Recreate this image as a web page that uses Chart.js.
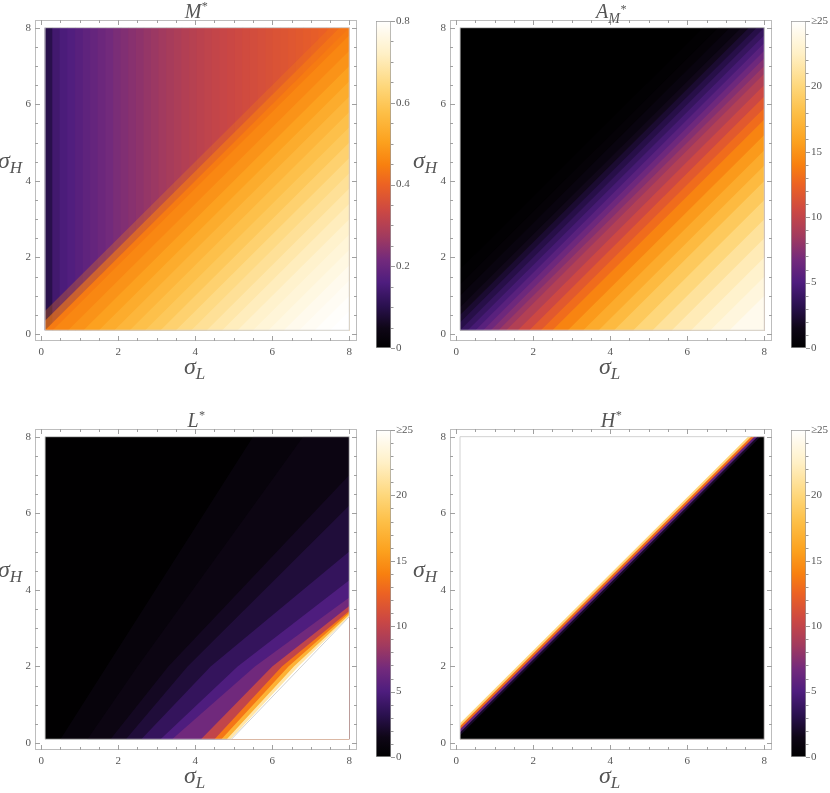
<!DOCTYPE html>
<html>
<head>
<meta charset="utf-8">
<script src="https://cdn.jsdelivr.net/npm/chart.js@4.4.0/dist/chart.umd.min.js"></script>
<style>
  body { margin: 0; background: #fff; width: 830px; height: 793px; position: relative; overflow: hidden; }
  canvas { position: absolute; }
  .lbl { position: absolute; font-family: 'Liberation Serif', 'DejaVu Serif', serif; font-style: italic; color: #555; white-space: nowrap; }
  .ttl { font-size: 20px; line-height: 20px; text-align: center; width: 392px; }
  .ax { font-size: 24px; line-height: 24px; }
  .sub { font-size: 17px; position: relative; top: 5px; }
  .star { font-size: 12px; position: relative; top: -8px; }
</style>
</head>
<body>

<canvas id="hm1" width="362" height="368" style="left:0;top:0"></canvas>
<canvas id="cb1" width="50" height="365" style="left:365px;top:0"></canvas>
<canvas id="hm2" width="362" height="368" style="left:415px;top:0"></canvas>
<canvas id="cb2" width="50" height="365" style="left:780px;top:0"></canvas>
<canvas id="hm3" width="362" height="368" style="left:0;top:409px"></canvas>
<canvas id="cb3" width="50" height="365" style="left:365px;top:409px"></canvas>
<canvas id="hm4" width="362" height="368" style="left:415px;top:409px"></canvas>
<canvas id="cb4" width="50" height="365" style="left:780px;top:409px"></canvas>

<div class="lbl ttl" style="left:0;top:1px"><i>M</i><span class="star">*</span></div>
<div class="lbl ttl" style="left:415px;top:1px"><i>A</i><span class="sub" style="font-size:14px">M<span class="star" style="top:-10px">*</span></span></div>
<div class="lbl ttl" style="left:0;top:410px"><i>L</i><span class="star">*</span></div>
<div class="lbl ttl" style="left:415px;top:410px"><i>H</i><span class="star">*</span></div>

<div class="lbl ax" style="left:184px;top:354px">σ<span class="sub">L</span></div>
<div class="lbl ax" style="left:599px;top:354px">σ<span class="sub">L</span></div>
<div class="lbl ax" style="left:184px;top:763px">σ<span class="sub">L</span></div>
<div class="lbl ax" style="left:599px;top:763px">σ<span class="sub">L</span></div>

<div class="lbl ax" style="left:-2px;top:148px">σ<span class="sub">H</span></div>
<div class="lbl ax" style="left:413px;top:148px">σ<span class="sub">H</span></div>
<div class="lbl ax" style="left:-2px;top:557px">σ<span class="sub">H</span></div>
<div class="lbl ax" style="left:413px;top:557px">σ<span class="sub">H</span></div>

<script>
// the functions are plotted on sigma_L, sigma_H in [0.1, 8]
const domainLo = 0.1;
const domainHi = 8;

const axisTicks = [0, 2, 4, 6, 8];
const mStarTicks = [0, 0.2, 0.4, 0.6, 0.8];
const countTicks = [0, 5, 10, 15, 20, 25];

// M*: above the diagonal it only changes with sigma_L (column centres + values)
const mStarColX = [0.20, 0.40, 0.59, 0.79, 0.99, 1.19, 1.38, 1.58, 1.78, 1.98,
                   2.17, 2.37, 2.57, 2.77, 2.96, 3.16, 3.36, 3.56, 3.75, 3.95,
                   4.15, 4.35, 4.54, 4.74, 4.94, 5.14, 5.33, 5.53, 5.73, 5.93,
                   6.12, 6.32, 6.52, 6.72, 6.91, 7.11, 7.31, 7.51, 7.70, 7.90];
const mStarColVal = [.10, .14, .155, .165, .175, .185, .195, .205, .215, .225,
                     .233, .241, .249, .257, .265, .273, .281, .289, .297, .304,
                     .310, .316, .322, .328, .333, .338, .343, .348, .353, .358,
                     .363, .368, .373, .378, .383, .388, .393, .398, .403, .408];
// M*: below the diagonal it changes with d = sigma_L - sigma_H (band edges in d, value under each edge)
const mStarEdge = [-0.5, -0.25, 0, 0.2, 0.6, 1.0, 1.4, 1.8, 2.2, 2.6, 3.0, 3.4, 3.8, 4.2, 4.6, 5.0, 5.4, 5.8, 6.2, 6.6, 7.0, 7.4];
const mStarVal  = [.44, .44, .44, .46, .48, .505, .53, .555, .58, .60, .625, .65, .67, .69, .71, .73, .745, .76, .775, .785, .795, .80];
const mStarAlpha = [0.3, 0.6];

// A_M*: bands along d = sigma_L - sigma_H
const amStarEdge = [-7.9, -1.6, -1.2, -0.9, -0.6, -0.4, -0.2, 0, 0.2, 0.4, 0.6, 0.8, 1.0, 1.2,
                    1.5, 1.8, 2.1, 2.4, 2.8, 3.2, 3.6, 4.0, 4.5, 5.0, 5.5, 6.0, 6.5, 7.0];
const amStarVal  = [0, 0.2, 0.5, 1.0, 1.6, 2.3, 3.0, 3.8, 4.6, 5.5, 6.5, 7.4, 8.3, 9.3,
                    10.5, 11.8, 13.0, 14.2, 15.4, 16.5, 17.6, 18.8, 20, 21.1, 22, 22.8, 23.5, 24.2];

// L*: level lines (crossing of the bottom edge, crossing of sigma_H = 2, end on the right or top edge)
const lStarBand = [0.1, 0.75, 1.25, 1.85, 2.6, 3.7, 5, 6.6, 10, 13.5, 17, 21.5, 25];
const lStarIsoBottom = [0.5, 1.2, 1.8, 2.2, 2.6, 3.1, 3.4, 4.15, 4.5, 4.68, 4.82, 4.92];
const lStarIsoMid = [1.7, 2.5, 3.3, 3.8, 4.4, 5.1, 5.55, 6.0, 6.25, 6.42, 6.56, 6.68];
const lStarMidH = 2;
const lStarIsoEnd = [[5.5, 8], [6.8, 8], [8, 7.0], [8, 6.2], [8, 5.0], [8, 4.25],
                     [8, 3.8], [8, 3.58], [8, 3.45], [8, 3.4], [8, 3.35], [8, 3.31]];
// edge of the L* region (no values below this line)
const lStarCut = [[4.94, 0.1], [8, 3.3]];

// H*: bands along d = sigma_L - sigma_H
const hStarEdge = [-7.9, -0.42, -0.34, -0.26, -0.18, -0.1];
const hStarVal  = [25, 20, 13, 6, 2, 0];

// colour scale (black - purple - red - orange - yellow - white)
const sunsetStops = [
  [0, '#000000'], [0.06, '#0e0616'], [0.13, '#2b1150'], [0.2, '#4e1d7e'],
  [0.27, '#732a7c'], [0.34, '#a13a5f'], [0.42, '#cc4843'], [0.5, '#ec6223'],
  [0.56, '#f8800f'], [0.63, '#fca11e'], [0.72, '#fdbf47'], [0.8, '#fed77b'],
  [0.9, '#fff0c6'], [1, '#ffffff']
];

function hexRgb(h) {
  return [parseInt(h.slice(1, 3), 16), parseInt(h.slice(3, 5), 16), parseInt(h.slice(5, 7), 16)];
}

function sunset(t, alpha) {
  t = Math.max(0, Math.min(1, t));
  for (let i = 1; i < sunsetStops.length; i++) {
    if (t <= sunsetStops[i][0]) {
      const [t0, c0] = sunsetStops[i - 1];
      const [t1, c1] = sunsetStops[i];
      const f = (t - t0) / (t1 - t0);
      const a = hexRgb(c0), b = hexRgb(c1);
      const rgb = a.map((v, k) => Math.round(v + (b[k] - v) * f)).join(',');
      return 'rgba(' + rgb + ',' + (alpha === undefined ? 1 : alpha) + ')';
    }
  }
  return '#ffffff';
}

// line sigma_H = sigma_L - d inside the square, continued along the edges to both sides
function diagLine(d) {
  if (d < 0) return [[domainLo, domainLo - d], [domainHi + d, domainHi], [domainHi, domainHi]];
  return [[domainLo, domainLo], [domainLo + d, domainLo], [domainHi, domainHi - d]];
}

// level line through three read points, continued along the edges
function isoLine(bottomX, midX, end) {
  const pts = [[domainLo, domainLo], [bottomX, domainLo], [midX, lStarMidH], end];
  if (end[0] < domainHi) pts.push([domainHi, domainHi]);
  return pts;
}

const tickFont = { family: "'Liberation Serif', 'DejaVu Serif', serif", size: 11 };

// frame, inward ticks and outline of the data region
const framePlugin = {
  id: 'frame',
  afterDatasetsDraw(chart, args, opts) {
    const { ctx, chartArea: a, scales: { x, y } } = chart;
    ctx.save();
    ctx.lineWidth = 1;

    const pts = opts.cut
      ? [[domainLo, domainLo], opts.cut[0], opts.cut[1], [domainHi, domainHi], [domainLo, domainHi]]
      : [[domainLo, domainLo], [domainHi, domainLo], [domainHi, domainHi], [domainLo, domainHi]];
    ctx.beginPath();
    pts.forEach(([px, py], i) => {
      const X = x.getPixelForValue(px), Y = y.getPixelForValue(py);
      if (i) ctx.lineTo(X, Y); else ctx.moveTo(X, Y);
    });
    ctx.closePath();
    ctx.strokeStyle = '#d2d2d2';
    ctx.stroke();

    ctx.strokeStyle = '#bdbdbd';
    ctx.strokeRect(Math.round(a.left) + 0.5, Math.round(a.top) + 0.5, Math.round(a.width) - 1, Math.round(a.height) - 1);

    ctx.strokeStyle = '#a0a0a0';
    ctx.beginPath();
    for (let k = 0; k <= 16; k++) {
      const v = k * 0.5;
      const len = k % 4 === 0 ? 5 : 3;
      const px = Math.round(x.getPixelForValue(v)) + 0.5;
      const py = Math.round(y.getPixelForValue(v)) + 0.5;
      ctx.moveTo(px, a.bottom); ctx.lineTo(px, a.bottom - len);
      ctx.moveTo(px, a.top); ctx.lineTo(px, a.top + len);
      ctx.moveTo(a.left, py); ctx.lineTo(a.left + len, py);
      ctx.moveTo(a.right, py); ctx.lineTo(a.right - len, py);
    }
    ctx.stroke();
    ctx.restore();
  }
};

// small ticks on the right of a colour bar
const barTickPlugin = {
  id: 'barTicks',
  afterDraw(chart, args, opts) {
    const { ctx, chartArea: a, scales: { y } } = chart;
    ctx.save();
    ctx.strokeStyle = '#9a9a9a';
    ctx.lineWidth = 1;
    ctx.beginPath();
    const n = Math.round(y.max / opts.minorStep);
    for (let k = 0; k <= n; k++) {
      const py = Math.round(y.getPixelForValue(k * opts.minorStep)) + 0.5;
      const len = k % opts.every === 0 ? 4 : 2.5;
      ctx.moveTo(a.right, py); ctx.lineTo(a.right + len, py);
    }
    ctx.stroke();
    ctx.restore();
  }
};

function toPoints(pts) {
  return pts.map(([x, y]) => ({ x: x, y: y }));
}

// every band is the area under its upper edge down to the bottom of the square;
// later bands are painted over earlier ones
function bandSet(lines, colors, orderStart) {
  return lines.map((pts, k) => ({
    type: 'line',
    data: toPoints(pts),
    fill: 0,
    backgroundColor: colors[k],
    borderColor: 'rgba(0,0,0,0)',
    borderWidth: 0,
    pointRadius: 0,
    order: orderStart - k
  }));
}

function heatChart(id, spec) {
  const datasets = [{
    type: 'line',
    data: toPoints([[domainLo, domainLo], [domainHi, domainLo]]),
    fill: false,
    borderColor: 'rgba(0,0,0,0)',
    borderWidth: 0,
    pointRadius: 0,
    order: 9000
  }];
  if (spec.columns) {
    // columns overlap a little so no seams show between them
    datasets.push({
      type: 'bar',
      data: spec.columns.x.map(v => ({ x: v, y: [domainLo, domainHi] })),
      backgroundColor: spec.columns.val.map(v => sunset(v / spec.vmax)),
      borderWidth: 0,
      barPercentage: 1.17,
      categoryPercentage: 1,
      order: 5000
    });
  }
  datasets.push(...bandSet(spec.lines, spec.colors, 1000));
  if (spec.cut) {
    datasets.push({
      type: 'line',
      data: toPoints([[domainLo, domainLo], spec.cut[0], spec.cut[1]]),
      fill: 0,
      backgroundColor: '#ffffff',
      borderColor: 'rgba(0,0,0,0)',
      borderWidth: 0,
      pointRadius: 0,
      order: -10
    });
  }

  new Chart(document.getElementById(id), {
    type: 'scatter',
    data: { datasets: datasets },
    options: {
      responsive: false,
      animation: false,
      events: [],
      layout: { padding: { top: 20, right: 5, left: 0, bottom: 0 } },
      plugins: { legend: { display: false }, tooltip: { enabled: false }, frame: { cut: spec.cut } },
      scales: {
        x: {
          type: 'linear', min: -0.16, max: 8.2, offset: false,
          grid: { display: false, drawTicks: false, offset: false },
          border: { display: false },
          afterBuildTicks: s => { s.ticks = axisTicks.map(v => ({ value: v })); },
          afterFit: s => { s.height = 27; },
          ticks: { font: tickFont, color: '#555', padding: 5, maxRotation: 0, autoSkip: false }
        },
        y: {
          type: 'linear', min: -0.18, max: 8.2,
          grid: { display: false, drawTicks: false },
          border: { display: false },
          afterBuildTicks: s => { s.ticks = axisTicks.map(v => ({ value: v })); },
          afterFit: s => { s.width = 35; },
          ticks: { font: tickFont, color: '#555', padding: 4, autoSkip: false }
        }
      }
    },
    plugins: [framePlugin]
  });
}

function colorBar(id, vmax, tickVals, minorStep, every) {
  new Chart(document.getElementById(id), {
    type: 'bar',
    data: {
      labels: [''],
      datasets: [{
        data: [[0, vmax]],
        backgroundColor: c => {
          const a = c.chart.chartArea;
          if (!a) return '#000';
          const g = c.chart.ctx.createLinearGradient(0, a.bottom, 0, a.top);
          sunsetStops.forEach(([t, col]) => g.addColorStop(t, col));
          return g;
        },
        borderColor: '#9a9a9a',
        borderWidth: 1,
        borderSkipped: false,
        barPercentage: 1,
        categoryPercentage: 1
      }]
    },
    options: {
      responsive: false,
      animation: false,
      events: [],
      layout: { padding: { left: 11, top: 21, bottom: 17, right: 0 } },
      plugins: { legend: { display: false }, tooltip: { enabled: false }, barTicks: { minorStep: minorStep, every: every } },
      scales: {
        x: { display: false },
        y: {
          position: 'right', min: 0, max: vmax,
          grid: { display: false, drawTicks: false },
          border: { display: false },
          afterBuildTicks: s => { s.ticks = tickVals.map(v => ({ value: v })); },
          afterFit: s => { s.width = 24; },
          ticks: { font: tickFont, color: '#555', padding: 5, callback: v => (v >= 25 ? '≥25' : String(v)) }
        }
      }
    },
    plugins: [barTickPlugin]
  });
}

heatChart('hm1', {
  vmax: 0.8,
  columns: { x: mStarColX, val: mStarColVal },
  lines: mStarEdge.map(diagLine),
  colors: mStarVal.map((v, k) => sunset(v / 0.8, k < mStarAlpha.length ? mStarAlpha[k] : 1))
});

heatChart('hm2', {
  vmax: 25,
  lines: amStarEdge.map(diagLine),
  colors: amStarVal.map(v => sunset(v / 25))
});

heatChart('hm3', {
  vmax: 25,
  lines: [diagLine(-7.9)].concat(lStarIsoBottom.map((b, k) => isoLine(b, lStarIsoMid[k], lStarIsoEnd[k]))),
  colors: lStarBand.map(v => sunset(v / 25)),
  cut: lStarCut
});

heatChart('hm4', {
  vmax: 25,
  lines: hStarEdge.map(diagLine),
  colors: hStarVal.map(v => sunset(v / 25))
});

colorBar('cb1', 0.8, mStarTicks, 0.05, 4);
colorBar('cb2', 25, countTicks, 1, 5);
colorBar('cb3', 25, countTicks, 1, 5);
colorBar('cb4', 25, countTicks, 1, 5);
</script>
</body>
</html>
